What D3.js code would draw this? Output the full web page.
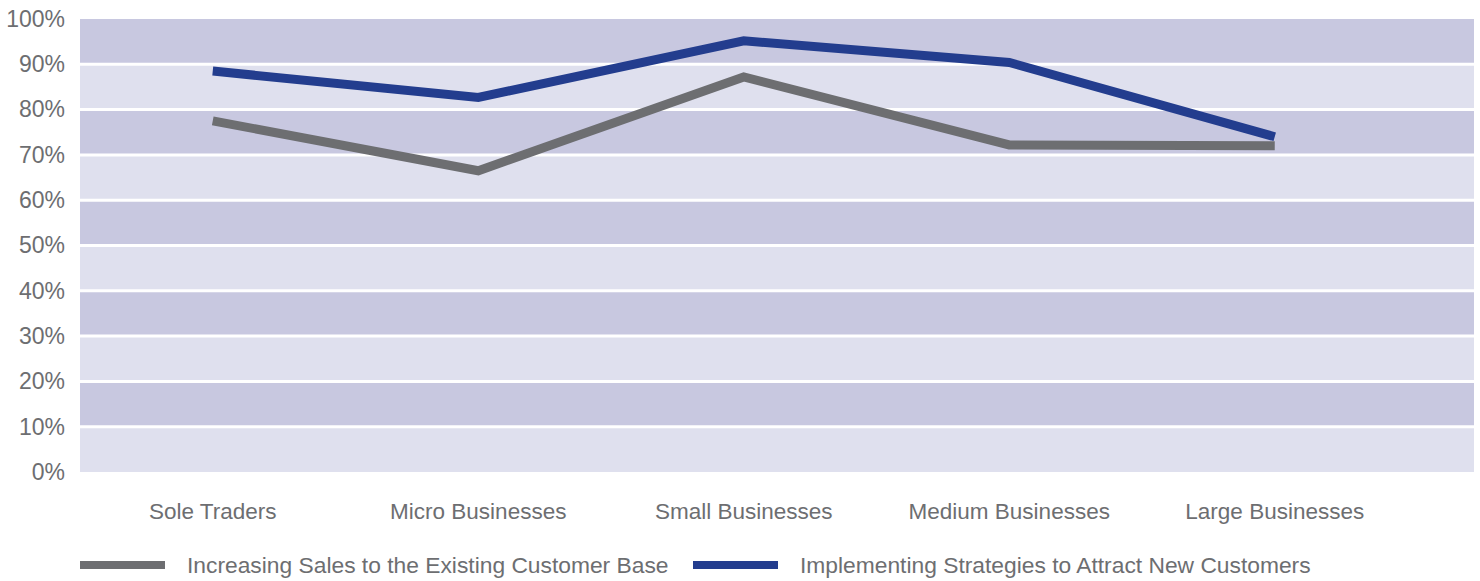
<!DOCTYPE html>
<html>
<head>
<meta charset="utf-8">
<script src="https://cdn.jsdelivr.net/npm/d3@7"></script>
<style>
  body { margin: 0; background: #fff; }
  text { font-family: "Liberation Sans", Arial, sans-serif; fill: #6d6e71; }
</style>
</head>
<body>
<div id="viz"></div>
<script>
// data
let categories = ["Sole Traders", "Micro Businesses", "Small Businesses", "Medium Businesses", "Large Businesses"]
let existingCustomers = [77.5, 66.5, 87.2, 72.2, 72]
let newCustomers = [88.5, 82.7, 95.2, 90.4, 74]
let seriesNames = ["Increasing Sales to the Existing Customer Base", "Implementing Strategies to Attract New Customers"]
let yTicks = [0, 10, 20, 30, 40, 50, 60, 70, 80, 90, 100]

let colors = ["#6d6e71", "#233d8e"]

let svg = d3.select("#viz")
  .append("svg")
    .attr("width", 1480)
    .attr("height", 581)

let plot = { left: 80, right: 1474, top: 19, bottom: 472 }

// scales
let xScale = d3.scaleBand()
    .domain(categories)
    .range([plot.left, plot.left + 5 * 265.5])

let yScale = d3.scaleLinear()
    .domain([0, 100])
    .range([plot.bottom, plot.top])

// background bands
svg.selectAll("rect.band")
  .data(yTicks.slice(0, -1))
  .join("rect")
    .attr("class", "band")
    .attr("x", plot.left)
    .attr("width", plot.right - plot.left)
    .attr("y", d => yScale(d + 10))
    .attr("height", d => yScale(d) - yScale(d + 10))
    .attr("fill", d => (d / 10) % 2 == 0 ? "#dfe0ee" : "#c8c8e0")

// white gridlines
svg.selectAll("line.grid")
  .data(yTicks.slice(1, -1))
  .join("line")
    .attr("class", "grid")
    .attr("x1", plot.left)
    .attr("x2", plot.right)
    .attr("y1", d => yScale(d))
    .attr("y2", d => yScale(d))
    .attr("stroke", "#fff")
    .attr("stroke-width", 3)

// y axis
let yAxis = d3.axisLeft(yScale)
    .tickValues(yTicks)
    .tickFormat(d => d + "%")
    .tickSize(0)
    .tickPadding(15)

svg.append("g")
    .attr("id", "y-axis")
    .attr("transform", `translate(${plot.left},0)`)
    .call(yAxis)
    .call(g => g.select(".domain").remove())
    .selectAll("text")
      .style("font-size", "23px")
      .attr("fill", "#6d6e71")

// x axis
let xAxis = d3.axisBottom(xScale)
    .tickSize(0)
    .tickPadding(31)

svg.append("g")
    .attr("id", "x-axis")
    .attr("transform", `translate(0,${plot.bottom})`)
    .call(xAxis)
    .call(g => g.select(".domain").remove())
    .selectAll("text")
      .style("font-size", "22.5px")
      .attr("fill", "#6d6e71")

// lines
let line = d3.line()
    .x((d, i) => xScale(categories[i]) + xScale.bandwidth() / 2)
    .y(d => yScale(d))

;[existingCustomers, newCustomers].forEach((s, i) => {
  svg.append("path")
      .datum(s)
      .attr("d", line)
      .attr("fill", "none")
      .attr("stroke", colors[i])
      .attr("stroke-width", 9)
      .attr("stroke-linejoin", "miter")
})

// legend
let legendX = [80, 693]
let legend = svg.selectAll("g.legend")
  .data(seriesNames)
  .join("g")
    .attr("class", "legend")
    .attr("transform", (d, i) => `translate(${legendX[i]},565)`)

legend.append("line")
    .attr("x1", 0)
    .attr("x2", 85)
    .attr("stroke", (d, i) => colors[i])
    .attr("stroke-width", 8)

legend.append("text")
    .attr("x", 107)
    .attr("y", 8)
    .style("font-size", "22.8px")
    .text(d => d)
</script>
</body>
</html>
